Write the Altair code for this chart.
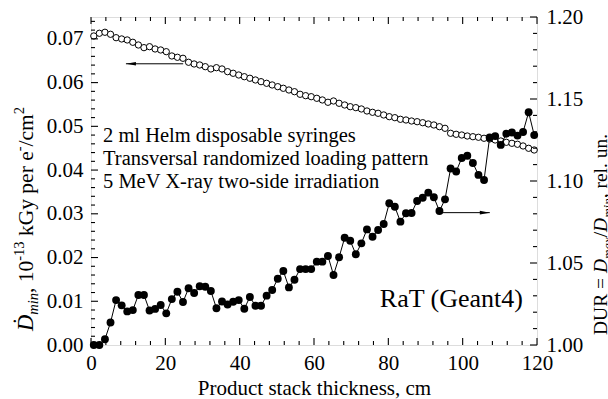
import altair as alt
import pandas as pd

FONT = "Liberation Serif"
W, H = 446, 328

# ---------------- data ----------------
thickness = [0.75, 2.25, 3.75, 5.25, 6.75, 8.25, 9.75, 11.25, 12.75, 14.25,
             15.75, 17.25, 18.75, 20.25, 21.75, 23.25, 24.75, 26.25, 27.75, 29.25,
             30.75, 32.25, 33.75, 35.25, 36.75, 38.25, 39.75, 41.25, 42.75, 44.25,
             45.75, 47.25, 48.75, 50.25, 51.75, 53.25, 54.75, 56.25, 57.75, 59.25,
             60.75, 62.25, 63.75, 65.25, 66.75, 68.25, 69.75, 71.25, 72.75, 74.25,
             75.75, 77.25, 78.75, 80.25, 81.75, 83.25, 84.75, 86.25, 87.75, 89.25,
             90.75, 92.25, 93.75, 95.25, 96.75, 98.25, 99.75, 101.25, 102.75, 104.25,
             105.75, 107.25, 108.75, 110.25, 111.75, 113.25, 114.75, 116.25, 117.75, 119.25]

dmin = [0.07066, 0.07128, 0.07151, 0.07105, 0.07027, 0.06998, 0.06975, 0.06922, 0.06860, 0.06799,
        0.06821, 0.06769, 0.06746, 0.06707, 0.06609, 0.06579, 0.06556, 0.06465, 0.06426, 0.06403,
        0.06364, 0.06312, 0.06341, 0.06312, 0.06250, 0.06213, 0.06174, 0.06135, 0.06099, 0.06060,
        0.06021, 0.05984, 0.05946, 0.05907, 0.05870, 0.05831, 0.05792, 0.05733, 0.05701, 0.05678,
        0.05641, 0.05603, 0.05550, 0.05580, 0.05527, 0.05488, 0.05449, 0.05427, 0.05397, 0.05351,
        0.05321, 0.05298, 0.05260, 0.05221, 0.05198, 0.05161, 0.05145, 0.05122, 0.05106, 0.05083,
        0.05054, 0.05031, 0.04992, 0.04955, 0.04841, 0.04818, 0.04802, 0.04779, 0.04763, 0.04750,
        0.04727, 0.04711, 0.04688, 0.04665, 0.04635, 0.04612, 0.04590, 0.04551, 0.04498, 0.04459]

dur = [1.0000, 1.0000, 1.0035, 1.0137, 1.0274, 1.0242, 1.0205, 1.0213, 1.0305, 1.0305,
       1.0210, 1.0220, 1.0244, 1.0193, 1.0280, 1.0325, 1.0262, 1.0346, 1.0317, 1.0358,
       1.0355, 1.0329, 1.0224, 1.0265, 1.0247, 1.0264, 1.0274, 1.0221, 1.0293, 1.0239,
       1.0239, 1.0301, 1.0335, 1.0404, 1.0451, 1.0351, 1.0398, 1.0463, 1.0463, 1.0463,
       1.0508, 1.0508, 1.0543, 1.0427, 1.0535, 1.0654, 1.0636, 1.0553, 1.0620, 1.0705,
       1.0660, 1.0701, 1.0738, 1.0864, 1.0843, 1.0752, 1.0803, 1.0805, 1.0878, 1.0898,
       1.0929, 1.0901, 1.0817, 1.0888, 1.1076, 1.1058, 1.1140, 1.1154, 1.1110, 1.1037,
       1.1006, 1.1265, 1.1274, 1.1220, 1.1288, 1.1296, 1.1277, 1.1299, 1.1419, 1.1280]

x_major = [0, 20, 40, 60, 80, 100, 120]
x_minor = [v for v in range(4, 120, 4) if v % 20 != 0]
yl_major = [0.0, 0.01, 0.02, 0.03, 0.04, 0.05, 0.06, 0.07]
yl_minor = [round(0.002 * k, 3) for k in range(1, 38) if k % 5 != 0]
yr_major = [1.00, 1.05, 1.10, 1.15, 1.20]
yr_minor = [round(1 + 0.01 * k, 2) for k in range(1, 20) if k % 5 != 0]

# arrows (x start, x end, level)
arrowL = {"x1": [9.4], "x2": [24.8], "y": [0.0643]}
arrowR = {"x1": [93.9], "x2": [107.3], "y": [1.0807]}

notes = ["2 ml Helm disposable syringes",
         "Transversal randomized loading pattern",
         "5 MeV X-ray two-side irradiation"]

LBL = 21

# ---------------- scales / axes ----------------
xs = alt.Scale(domain=[0, 120], nice=False, zero=False)
ysL = alt.Scale(domain=[0, 0.075], nice=False, zero=False)
ysR = alt.Scale(domain=[1.0, 1.2], nice=False, zero=False)

x_axis = alt.Axis(values=x_major, format="d", ticks=False, domain=False, grid=False,
                  labelFont=FONT, labelFontSize=LBL, labelColor="black", labelPadding=7,
                  labelFlush=False, labelOverlap=False,
                  title="Product stack thickness, cm", titleFont=FONT, titleFontSize=LBL,
                  titleFontWeight="normal", titleColor="black", titlePadding=4)
yl_axis = alt.Axis(values=yl_major, format=".2f", ticks=False, domain=False, grid=False,
                   orient="left", labelFont=FONT, labelFontSize=LBL, labelColor="black",
                   labelPadding=8, labelFlush=False, labelOverlap=False, title=None)
yr_axis = alt.Axis(values=yr_major, format=".2f", ticks=False, domain=False, grid=False,
                   orient="right", labelFont=FONT, labelFontSize=LBL, labelColor="black",
                   labelPadding=9, labelFlush=False, labelOverlap=False, title=None)

X = lambda f: alt.X(f, type="quantitative", scale=xs, axis=x_axis)
YL = lambda f: alt.Y(f, type="quantitative", scale=ysL, axis=yl_axis)
YR = lambda f: alt.Y(f, type="quantitative", scale=ysR, axis=yr_axis)

df = pd.DataFrame({"t": thickness, "dmin": dmin, "dur": dur})
dummy = pd.DataFrame({"a": [0]})

# ---------------- left group ----------------
open_pts = alt.Chart(df).mark_point(shape="circle", filled=True, fill="white", stroke="black",
                                    strokeWidth=1, size=40, opacity=1).encode(x=X("t"), y=YL("dmin"))


def vtick(vals, scale_fn, side, length):
    d = pd.DataFrame({"v": vals})
    if side == "left":
        xa, xb = 0, length
    else:
        xa, xb = W, W - length
    return alt.Chart(d).mark_rule(color="black", strokeWidth=1.1).encode(
        y=scale_fn("v"), x=alt.value(xa), x2=alt.value(xb))


def htick(vals, side, length):
    d = pd.DataFrame({"v": vals})
    if side == "bottom":
        ya, yb = H, H - length
    else:
        ya, yb = 0, length
    return alt.Chart(d).mark_rule(color="black", strokeWidth=1.1).encode(
        x=X("v"), y=alt.value(ya), y2=alt.value(yb))


arrow_left_path = "M0,0 L2,-0.36 L2,0.36 Z"
arrow_right_path = "M0,0 L-2,-0.36 L-2,0.36 Z"

aL = pd.DataFrame(arrowL)
arrL_line = alt.Chart(aL).mark_rule(color="black", strokeWidth=1).encode(x=X("x1"), x2="x2", y=YL("y"))
arrL_head = alt.Chart(aL).mark_point(shape=arrow_left_path, filled=True, color="black", size=100,
                                     opacity=1, strokeWidth=0).encode(x=X("x1"), y=YL("y"))

left = alt.layer(
    open_pts,
    vtick(yl_major, YL, "left", 7), vtick(yl_minor, YL, "left", 4),
    htick(x_major, "bottom", 7), htick(x_minor, "bottom", 4),
    htick(x_major, "top", 7), htick(x_minor, "top", 4),
    arrL_line, arrL_head,
)

# ---------------- right group ----------------
line = alt.Chart(df).mark_line(color="black", strokeWidth=1).encode(x=X("t"), y=YR("dur"))
pts = alt.Chart(df).mark_point(shape="circle", filled=True, color="black", size=62,
                               opacity=1).encode(x=X("t"), y=YR("dur"))
aR = pd.DataFrame(arrowR)
arrR_line = alt.Chart(aR).mark_rule(color="black", strokeWidth=1).encode(x=X("x1"), x2="x2", y=YR("y"))
arrR_head = alt.Chart(aR).mark_point(shape=arrow_right_path, filled=True, color="black", size=100,
                                     opacity=1, strokeWidth=0).encode(x=X("x2"), y=YR("y"))

right = alt.layer(
    line, pts,
    vtick(yr_major, YR, "right", 7), vtick(yr_minor, YR, "right", 4),
    arrR_line, arrR_head,
)


# ---------------- texts ----------------
def txt(s, x, y, size=19, angle=0, style="normal", align="left", baseline="alphabetic"):
    return alt.Chart(dummy).mark_text(text=s, font=FONT, fontSize=size, fontStyle=style,
                                      angle=angle, align=align, baseline=baseline,
                                      color="black").encode(x=alt.value(x), y=alt.value(y))


texts = [
    txt(notes[0], 12, 125, size=20.5),
    txt(notes[1], 12, 148, size=20.5),
    txt(notes[2], 12, 171, size=20.5),
    txt("RaT (Geant4)", 432, 290, size=26, align="right"),
]

# left title pieces (rotated, reading upward)
F1, F2 = 21.5, 14.5
bx = -58
cur = 314
pieces_left = [
    ("\u1E0A", 0, F1 + 1, "italic", 0.722 * (F1 + 1)),
    ("min", 5, F2, "italic", 1.5 * F2),
    (", 10", 0, F1, "normal", 1.5 * F1),
    ("-13", -9, F2, "normal", 1.333 * F2 + 0.25 * F1),
    ("kGy per e", 0, F1, "normal", 3.943 * F1),
    ("-", -9, F2, "normal", 0.333 * F2),
    ("/cm", 0, F1, "normal", 1.5 * F1),
    ("2", -9, F2, "normal", 0.5 * F2),
]
for s, dx, sz, st, w in pieces_left:
    texts.append(txt(s, bx + dx, cur, size=sz, angle=270, style=st))
    cur -= w

# right title pieces
bx = 516
cur = 318
pieces_right = [
    ("DUR =", 0, 19.5, "normal", 3.175 * 19.5),
    ("D", 0, 19.5, "italic", 0.722 * 19.5),
    ("max", 5, 13, "italic", 21.7),
    ("/", 0, 19.5, "normal", 0.278 * 19.5),
    ("D", 0, 19.5, "italic", 0.722 * 19.5),
    ("min", 5, 13, "italic", 19.5),
    (", rel. un.", 0, 19.5, "normal", 62.8),
]
for s, dx, sz, st, w in pieces_right:
    texts.append(txt(s, bx + dx, cur, size=sz, angle=270, style=st))
    cur -= w

chart = alt.layer(left, right, *texts).resolve_scale(y="independent").properties(
    width=W, height=H,
    autosize=alt.AutoSizeParams(type="none"),
    padding={"left": 91, "top": 17, "right": 71, "bottom": 54},
).configure_view(stroke="black", strokeWidth=1.3).configure(background="white")

chart.save("out.html", embed_options={"renderer": "svg", "actions": False})
